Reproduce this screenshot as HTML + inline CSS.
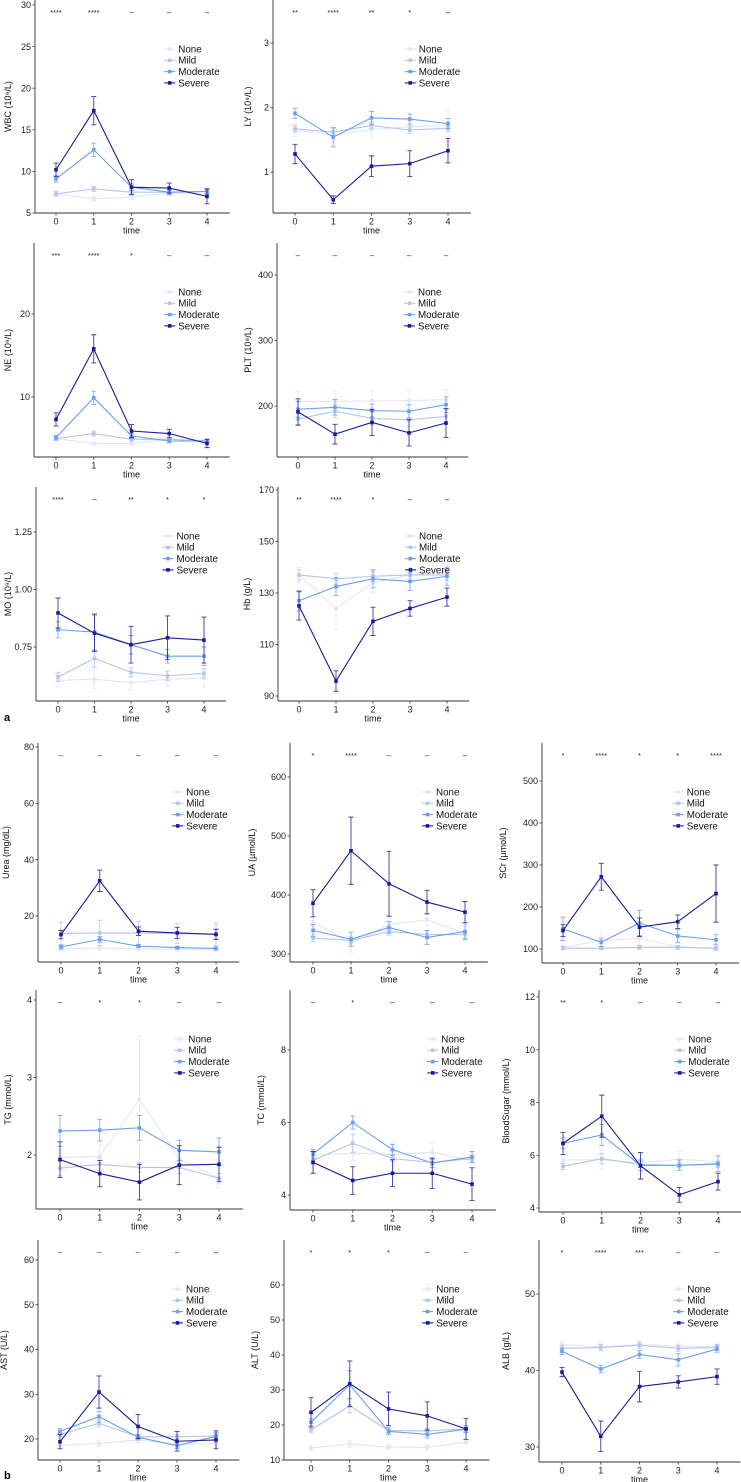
<!DOCTYPE html>
<html><head><meta charset="utf-8">
<style>
html,body{margin:0;padding:0;background:#fff;}
svg{display:block;font-family:"Liberation Sans",Arial,sans-serif;}
</style></head>
<body>
<svg id="fig" width="741" height="1482" viewBox="0 0 741 1482" xmlns="http://www.w3.org/2000/svg">
<text x="4" y="721" font-size="11" font-weight="bold" fill="#000">a</text>
<text x="4" y="1479" font-size="11" font-weight="bold" fill="#000">b</text>
</svg>
<script>
const groups = ["None","Mild","Moderate","Severe"];
const groupColors = ["#e3e6f6","#b3c6e8","#6c9ff0","#1b1b98"];
const timeLabels = ["0","1","2","3","4"];

const wbcMean = [[7.3,6.7,6.9,7.4,7.4],[7.3,7.9,7.5,7.5,7.6],[9.1,12.6,8.1,7.5,7.6],[10.2,17.3,8.1,8.0,7.0]];
const wbcErr  = [[0.3,0.3,0.3,0.3,0.3],[0.3,0.3,0.3,0.3,0.3],[0.4,0.8,0.4,0.3,0.3],[0.8,1.7,0.9,0.6,0.9]];
const wbcSig  = ["****","****","–","–","–"];
const wbcTicks = [5,10,15,20,25,30];

const lyMean = [[1.65,1.57,1.66,1.70,1.72],[1.67,1.62,1.72,1.65,1.68],[1.91,1.54,1.84,1.82,1.75],[1.28,0.57,1.09,1.13,1.33]];
const lyErr  = [[0.1,0.1,0.12,0.1,0.25],[0.05,0.05,0.05,0.05,0.05],[0.08,0.15,0.1,0.08,0.08],[0.15,0.06,0.16,0.2,0.19]];
const lySig  = ["**","****","**","*","–"];
const lyTicks = [1,2,3];

const neMean = [[5.0,4.4,4.4,4.9,4.8],[5.0,5.6,4.9,4.9,4.7],[5.1,9.9,5.3,4.7,4.7],[7.3,15.8,5.9,5.6,4.4]];
const neErr  = [[0.2,0.2,0.2,0.2,0.2],[0.2,0.3,0.2,0.2,0.2],[0.3,0.8,0.3,0.2,0.2],[0.8,1.7,0.8,0.5,0.5]];
const neSig  = ["***","****","*","–","–"];
const neTicks = [10,20];

const pltMean = [[207,207,208,208,210],[180,192,181,179,184],[195,198,193,192,202],[191,157,175,159,174]];
const pltErr  = [[15,15,15,15,15],[10,10,10,10,10],[12,12,10,10,12],[20,15,20,20,22]];
const pltSig  = ["–","–","–","–","–"];
const pltTicks = [200,300,400];

const moMean = [[0.605,0.61,0.595,0.61,0.615],[0.62,0.70,0.64,0.625,0.635],[0.825,0.815,0.76,0.71,0.71],[0.898,0.81,0.76,0.79,0.78]];
const moErr  = [[0.03,0.04,0.03,0.03,0.04],[0.02,0.04,0.02,0.02,0.02],[0.035,0.08,0.04,0.03,0.04],[0.065,0.08,0.08,0.095,0.1]];
const moSig  = ["****","–","**","*","*"];
const moTicks = [0.75,1.00,1.25];

const hbMean = [[137,124,134,137,138],[137,135.5,136.5,137,137],[127,132.5,135.5,134.5,136.5],[125,95.8,119,124,128.4]];
const hbErr  = [[3,8,4,3,3],[2,2,2,2,2],[4,3.5,3.5,3.5,3.5],[5.5,4,5.5,3,3.5]];
const hbSig  = ["**","****","*","–","–"];
const hbTicks = [90,110,130,150,170];

const ureaMean = [[8.3,8.6,8.3,8.2,8.1],[13.8,14,14,13.8,13.5],[9.0,11.7,9.3,8.8,8.5],[13.4,32.5,14.6,14,13.5]];
const ureaErr  = [[0.5,0.5,0.5,0.5,0.5],[4,4.5,4,3.5,4],[0.7,1,0.5,0.5,0.5],[1.5,3.8,1.5,2,1.8]];
const ureaSig  = ["–","–","–","–","–"];
const ureaTicks = [20,40,60,80];

const uaMean = [[355,318,350,358,335],[327,323,338,333,333],[340,325,345,328,338],[386,475,419,388,371]];
const uaErr  = [[8,15,10,10,12],[6,6,6,6,6],[10,12,10,12,13],[23,57,55,20,18]];
const uaSig  = ["*","****","–","–","–"];
const uaTicks = [300,400,500,600];

const scrMean = [[104,120,125,106,100],[102,102,104,104,102],[148,116,162,131,122],[144,272,152,165,232]];
const scrErr  = [[5,20,15,8,5],[4,4,4,4,4],[28,10,30,15,12],[14,32,22,16,68]];
const scrSig  = ["*","****","*","*","****"];
const scrTicks = [100,200,300,400,500];

const tgMean = [[1.97,1.98,2.72,1.95,1.70],[1.83,1.88,1.84,1.84,1.70],[2.31,2.32,2.35,2.06,2.04],[1.94,1.76,1.65,1.87,1.88]];
const tgErr  = [[0.1,0.15,0.82,0.06,0.12],[0.1,0.08,0.06,0.08,0.06],[0.2,0.14,0.16,0.13,0.18],[0.23,0.17,0.23,0.25,0.22]];
const tgSig  = ["–","*","*","–","–"];
const tgTicks = [2,3,4];

const tcMean = [[5.1,5.15,5.12,5.18,4.95],[4.95,5.43,5.0,4.9,5.0],[5.13,6.0,5.25,4.88,5.05],[4.9,4.4,4.6,4.6,4.3]];
const tcErr  = [[0.2,0.2,0.1,0.25,0.1],[0.1,0.25,0.08,0.08,0.1],[0.12,0.18,0.15,0.12,0.15],[0.3,0.38,0.37,0.42,0.45]];
const tcSig  = ["–","*","–","–","–"];
const tcTicks = [4,6,8];

const bsMean = [[5.82,5.83,5.72,5.85,5.75],[5.58,5.87,5.65,5.62,5.65],[6.45,6.77,5.62,5.62,5.68],[6.45,7.48,5.6,4.5,5.0]];
const bsErr  = [[0.15,0.35,0.15,0.3,0.2],[0.12,0.2,0.12,0.1,0.1],[0.2,0.4,0.2,0.2,0.3],[0.42,0.8,0.5,0.28,0.32]];
const bsSig  = ["**","*","–","–","–"];
const bsTicks = [4,6,8,10,12];

const astMean = [[18.6,19,19.8,18.8,19],[21,23.5,20.5,20.5,20.7],[21.7,25,20.4,18.5,20.6],[19.4,30.5,22.8,19.5,19.8]];
const astErr  = [[0.6,0.6,0.6,0.6,0.6],[0.5,0.8,0.5,0.5,0.5],[0.6,1.2,0.6,0.6,0.8],[1.6,3.6,2.7,2.2,2]];
const astSig  = ["–","–","–","–","–"];
const astTicks = [20,30,40,50,60];

const altMean = [[13.4,14.6,13.7,13.6,15.1],[18.6,25.5,18.4,18.3,18.9],[20.8,31.5,18.2,17.3,18.8],[23.6,31.8,24.6,22.6,18.9]];
const altErr  = [[0.7,1,0.7,0.7,0.7],[0.8,2,0.8,0.8,0.8],[1,4,1,1,1],[4.2,6.5,4.8,4,3]];
const altSig  = ["*","*","*","–","–"];
const altTicks = [10,20,30,40,50,60];

const albMean = [[43.4,43.1,43.4,43.2,43.1],[42.9,43.0,43.3,42.9,43.0],[42.5,40.2,42.1,41.4,42.8],[39.8,31.4,37.9,38.5,39.2]];
const albErr  = [[0.5,0.5,0.5,0.5,0.5],[0.4,0.4,0.4,0.4,0.4],[0.4,0.5,0.5,0.8,0.4],[0.6,2,2,0.8,1]];
const albSig  = ["*","****","***","–","–"];
const albTicks = [30,40,50];

const panels = [
 {id:"wbc",title:"WBC (10⁹/L)",mean:wbcMean,err:wbcErr,sig:wbcSig,ticks:wbcTicks,dec:0,ax:35,top:0,bot:213,x0:56,x4:207,c:[30,5,5,213],tx:8},
 {id:"ly",title:"LY  (10⁹/L)",mean:lyMean,err:lyErr,sig:lySig,ticks:lyTicks,dec:0,ax:273,top:0,bot:213,x0:295,x4:448,c:[3,43,1,172],tx:248},
 {id:"ne",title:"NE  (10⁹/L)",mean:neMean,err:neErr,sig:neSig,ticks:neTicks,dec:0,ax:34,top:243,bot:457,x0:56,x4:207,c:[20,314,10,397],tx:8},
 {id:"plt",title:"PLT (10⁹/L)",mean:pltMean,err:pltErr,sig:pltSig,ticks:pltTicks,dec:0,ax:277,top:243,bot:457,x0:298,x4:446,c:[400,275,200,406],tx:248},
 {id:"mo",title:"MO  (10⁹/L)",mean:moMean,err:moErr,sig:moSig,ticks:moTicks,dec:2,ax:36,top:487,bot:701,x0:58,x4:204,c:[1.25,532,0.75,647],tx:8},
 {id:"hb",title:"Hb (g/L)",mean:hbMean,err:hbErr,sig:hbSig,ticks:hbTicks,dec:0,ax:278,top:487,bot:701,x0:299,x4:447,c:[170,490,90,696],tx:247},
 {id:"urea",title:"Urea (mg/dL)",mean:ureaMean,err:ureaErr,sig:ureaSig,ticks:ureaTicks,dec:0,ax:38,top:743,bot:962,x0:61,x4:216,c:[80,747,20,916],tx:6},
 {id:"ua",title:"UA (µmol/L)",mean:uaMean,err:uaErr,sig:uaSig,ticks:uaTicks,dec:0,ax:290,top:743,bot:962,x0:313,x4:465,c:[600,777,300,954],tx:252},
 {id:"scr",title:"SCr (µmol/L)",mean:scrMean,err:scrErr,sig:scrSig,ticks:scrTicks,dec:0,ax:542,top:743,bot:963,x0:563,x4:716,c:[500,781,100,949],tx:503},
 {id:"tg",title:"TG (mmol/L)",mean:tgMean,err:tgErr,sig:tgSig,ticks:tgTicks,dec:0,ax:36,top:990,bot:1209,x0:60,x4:219,c:[4,1000,2,1155],tx:8},
 {id:"tc",title:"TC (mmol/L)",mean:tcMean,err:tcErr,sig:tcSig,ticks:tcTicks,dec:0,ax:290,top:990,bot:1210,x0:313,x4:472,c:[8,1050,4,1195],tx:261},
 {id:"bs",title:"BloodSugar (mmol/L)",mean:bsMean,err:bsErr,sig:bsSig,ticks:bsTicks,dec:0,ax:539,top:990,bot:1212,x0:563,x4:718,c:[12,997,4,1208],tx:506},
 {id:"ast",title:"AST (U/L)",mean:astMean,err:astErr,sig:astSig,ticks:astTicks,dec:0,ax:38,top:1240,bot:1460,x0:60,x4:216,c:[60,1260,20,1439],tx:4},
 {id:"alt",title:"ALT (U/L)",mean:altMean,err:altErr,sig:altSig,ticks:altTicks,dec:0,ax:284,top:1240,bot:1460,x0:311,x4:466,c:[60,1285,10,1460],tx:255},
 {id:"alb",title:"ALB (g/L)",mean:albMean,err:albErr,sig:albSig,ticks:albTicks,dec:0,ax:539,top:1240,bot:1462,x0:562,x4:717,c:[50,1294,30,1447],tx:506}
];

const NS = "http://www.w3.org/2000/svg";
const svg = document.getElementById("fig");
function mk(tag, attrs, parent){
  const e = document.createElementNS(NS, tag);
  for (const k in attrs) e.setAttribute(k, attrs[k]);
  parent.appendChild(e);
  return e;
}

panels.forEach(p => {
  const g = mk("g", {}, svg);
  
  
  const dx = (p.x4 - p.x0) / 4;
  const xScale = i => p.x0 + i * dx;
  const k = (p.c[3] - p.c[1]) / (p.c[2] - p.c[0]);
  const yScale = v => p.c[1] + (v - p.c[0]) * k;
  const right = p.x4 + dx * 0.6;

  const yax = mk("line", {x1:p.ax, y1:p.top, x2:p.ax, y2:p.bot, stroke:"#333", "stroke-width":0.9}, g);
  
  
  const xax = mk("line", {x1:p.ax, y1:p.bot, x2:right, y2:p.bot, stroke:"#333", "stroke-width":0.9}, g);
  
  

  p.ticks.forEach(t => {
    const y = yScale(t);
    mk("line", {x1:p.ax-2.5, y1:y, x2:p.ax, y2:y, stroke:"#333", "stroke-width":0.8}, g);
    const tl = mk("text", {x:p.ax-4, y:y+3.2, "font-size":9, "text-anchor":"end", fill:"#222"}, g);
    tl.textContent = t.toFixed(p.dec);
    
    
  });
  timeLabels.forEach((lab, i) => {
    const x = xScale(i);
    mk("line", {x1:x, y1:p.bot, x2:x, y2:p.bot+2.5, stroke:"#333", "stroke-width":0.8}, g);
    const tl = mk("text", {x:x, y:p.bot+11.5, "font-size":9, "text-anchor":"middle", fill:"#222"}, g);
    tl.textContent = lab;
    
    
  });
  const xt = mk("text", {x:(p.x0+p.x4)/2, y:p.bot+20.5, "font-size":9, "text-anchor":"middle", fill:"#111"}, g);
  xt.textContent = "time";
  
  
  const cy = (p.top + p.bot) / 2;
  const yt = mk("text", {x:p.tx+3, y:cy, "font-size":9, "text-anchor":"middle", fill:"#111", transform:`rotate(-90 ${p.tx+3} ${cy})`}, g);
  yt.textContent = p.title;
  
  

  p.sig.forEach((s, i) => {
    const st = mk("text", {x:xScale(i), y:p.top+15, "font-size":s==="–"?8:7.5, "text-anchor":"middle", fill:"#222"}, g);
    st.textContent = s;
    
    
  });

  groups.forEach((grp, gi) => {
    const col = groupColors[gi];
    const sg = mk("g", {}, g);
    
    
    const pts = p.mean[gi].map((v, i) => xScale(i) + "," + yScale(v)).join(" ");
    mk("polyline", {points:pts, fill:"none", stroke:col, "stroke-width":1.1}, sg);
    p.mean[gi].forEach((v, i) => {
      const x = xScale(i), e = p.err[gi][i];
      const y1 = yScale(v + e), y2 = yScale(v - e);
      const eb = mk("path", {d:`M${x-2.5},${y1}H${x+2.5}M${x},${y1}V${y2}M${x-2.5},${y2}H${x+2.5}`, stroke:col, "stroke-width":0.9, fill:"none", opacity:0.85}, sg);
      
      
      const pt = mk("rect", {x:x-1.8, y:yScale(v)-1.8, width:3.6, height:3.6, fill:col}, sg);
      
      
    });
  });

  const lg = mk("g", {}, g);
  
  
  const lx = xScale(3) + 9, ly0 = p.top + 49;
  groups.forEach((grp, gi) => {
    const y = ly0 + gi * 11.3;
    const le = mk("g", {}, lg);
    
    
    mk("line", {x1:lx-14, y1:y, x2:lx-3, y2:y, stroke:groupColors[gi], "stroke-width":1.1}, le);
    mk("rect", {x:lx-10.3, y:y-1.8, width:3.6, height:3.6, fill:groupColors[gi]}, le);
    const t = mk("text", {x:lx, y:y+3.4, "font-size":9.8, fill:"#111"}, le);
    t.textContent = grp;
  });
});
</script>
</body></html>
